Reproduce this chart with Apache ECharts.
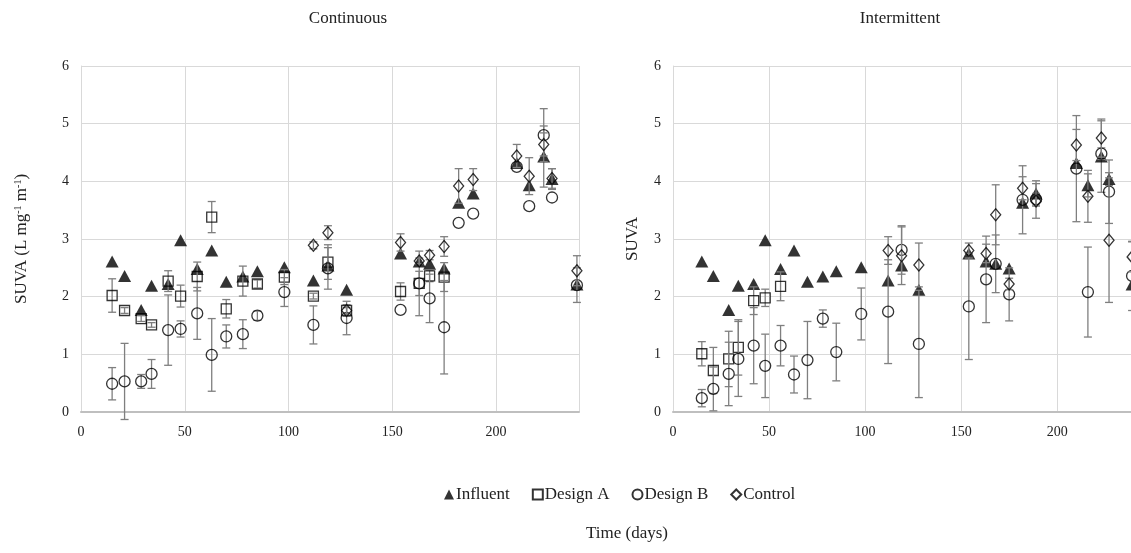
<!DOCTYPE html>
<html><head><meta charset="utf-8">
<script src="https://cdn.jsdelivr.net/npm/echarts@6/dist/echarts.min.js"></script>
<style>html,body{margin:0;padding:0;background:#fff;overflow:hidden;width:1131px;height:553px}#c{width:1140px;height:553px}</style>
</head><body><div id="c"></div>
<script>
// ---- data ----
const days = [15,21,29,34,42,48,56,63,70,78,85,98,112,119,128,154,163,168,175,182,189,210,216,223,227,239];
const xTicks = [0,50,100,150,200];
const yTicks = [0,1,2,3,4,5,6];
const influent = [2.61,2.36,1.77,2.19,2.22,2.98,2.48,2.80,2.26,2.35,2.44,2.51,2.28,2.54,2.12,2.75,2.61,2.57,2.49,3.63,3.79,4.32,3.93,4.43,4.04,2.21];
// Continuous
const contInfErr = [0,0,0,0,0,0,0,0,0,0,0,0,0,0,0,0,0,0,0,0,0,0,0,0.53,0.18,0];
const contDaysA = [15,21,29,34,42,48,56,63,70,78,85,98,112,119,128,154,163,168,175];
const contA = [2.02,1.76,1.62,1.51,2.27,2.01,2.35,3.38,1.79,2.27,2.22,2.34,2.01,2.60,1.76,2.09,2.23,2.36,2.34];
const contAErr = [0.29,0.05,0.05,0.04,0.18,0.19,0.25,0.27,0.16,0.26,0.07,0.13,0.05,0.30,0.10,0.15,0.21,0.10,0.25];
const contB = [0.49,0.53,0.53,0.66,1.42,1.44,1.71,0.99,1.31,1.35,1.67,2.08,1.51,2.49,1.63,1.77,2.23,1.97,1.47,3.28,3.44,4.25,3.57,4.80,3.72,2.20];
const contBErr = [0.28,0.66,0.12,0.25,0.61,0.14,0.45,0.63,0.20,0.25,0.08,0.25,0.33,0.36,0.29,0,0.56,0.42,0.81,0,0,0,0,0.46,0,0.30];
const ctrlDays = [112,119,128,154,163,168,175,182,189,210,216,223,227,239];
const contCtrl = [2.89,3.11,1.76,2.94,2.62,2.72,2.87,3.92,4.03,4.44,4.09,4.64,4.05,2.45];
const contCtrlErr = [0.06,0.12,0.05,0.15,0.05,0.08,0.17,0.30,0.19,0.20,0.32,0.20,0.17,0.26];
// Intermittent
const intInfErr = [0,0,0,0,0,0,0,0,0,0,0,0,0,0,0,0,0,0,0,0,0.22,0,0.20,0.62,0.11,0];
const intDaysA = [15,21,29,34,42,48,56];
const intA = [1.01,0.72,0.92,1.12,1.93,1.98,2.18];
const intAErr = [0.21,0.40,0.48,0.48,0.24,0.15,0.25];
const intB = [0.24,0.40,0.66,0.92,1.15,0.80,1.15,0.65,0.90,1.62,1.04,1.70,1.74,2.81,1.18,1.83,2.30,2.57,2.04,3.68,3.69,4.22,2.08,4.48,3.82,2.36];
const intBErr = [0.15,0.38,0.55,0.65,0.66,0.55,0.35,0.32,0.67,0.15,0.50,0.45,0.90,0.42,0.93,0.92,0.75,0.50,0.46,0.59,0.10,0.92,0.78,0.10,0.55,0.60];
const intCtrl = [2.80,2.71,2.55,2.80,2.75,3.42,2.22,3.88,3.66,4.63,3.74,4.75,2.98,2.69];
const intCtrlErr = [0.24,0.50,0.38,0.13,0.16,0.52,0.10,0.20,0.30,0.27,0.45,0.33,1.08,0.26];

// ---- chart ----
const FONT = 'Liberation Serif';
const chart = echarts.init(document.getElementById('c'), null, {renderer:'canvas'});

function pts(xs, ys){ return xs.map((x,i)=>[x, ys[i]]); }
function errPts(xs, ys, es){ return xs.map((x,i)=>[x, ys[i], es[i]]).filter(d=>d[2]>0); }

function errSeries(idx, data, z){
  return {
    type:'custom', xAxisIndex:idx, yAxisIndex:idx, z:z, silent:true,
    data:data, clip:false,
    renderItem:function(params, api){
      const x=api.value(0), y=api.value(1), e=api.value(2);
      const hi=api.coord([x,y+e]), lo=api.coord([x,y-e]);
      const w=4;
      const st={stroke:'#7f7f7f', lineWidth:1.3};
      return {type:'group', children:[
        {type:'line', shape:{x1:hi[0],y1:hi[1],x2:lo[0],y2:lo[1]}, style:st},
        {type:'line', shape:{x1:hi[0]-w,y1:hi[1],x2:hi[0]+w,y2:hi[1]}, style:st},
        {type:'line', shape:{x1:lo[0]-w,y1:lo[1],x2:lo[0]+w,y2:lo[1]}, style:st}
      ]};
    }
  };
}

const styles = {
  'Influent': {symbol:'triangle', symbolSize:[13,12], itemStyle:{color:'#000'}},
  'Design A': {symbol:'rect', symbolSize:10, itemStyle:{color:'rgba(255,255,255,0)', borderColor:'#000', borderWidth:1.3}},
  'Design B': {symbol:'circle', symbolSize:11, itemStyle:{color:'rgba(255,255,255,0)', borderColor:'#000', borderWidth:1.3}},
  'Control': {symbol:'diamond', symbolSize:[10,12], itemStyle:{color:'rgba(255,255,255,0)', borderColor:'#000', borderWidth:1.3}}
};
function sc(idx, name, data, z){
  return Object.assign({type:'scatter', name:name, xAxisIndex:idx, yAxisIndex:idx, z:z, data:data, clip:false}, styles[name]);
}

function xAx(idx){
  return {gridIndex:idx, type:'value', min:0, max:240, interval:50,
    axisLine:{show:true, lineStyle:{color:'#bfbfbf', width:2}}, axisTick:{show:false},
    splitLine:{show:true, lineStyle:{color:'#d9d9d9', width:1}},
    axisLabel:{fontFamily:FONT, fontSize:14, color:'#222', margin:13,
      formatter:v=> xTicks.indexOf(v)>=0 ? String(v) : ''}};
}
function yAx(idx, name, gap){
  return {gridIndex:idx, type:'value', min:0, max:6, interval:1,
    axisLine:{show:true, lineStyle:{color:'#d9d9d9', width:1}}, axisTick:{show:false},
    splitLine:{show:true, lineStyle:{color:'#d9d9d9', width:1}},
    axisLabel:{fontFamily:FONT, fontSize:14, color:'#222', margin:12,
      formatter:v=> yTicks.indexOf(v)>=0 ? String(v) : ''},
    name:name, nameLocation:'middle', nameGap:gap, nameRotate:90,
    nameTextStyle:{fontFamily:FONT, fontSize:17, color:'#222',
      rich:{a:{fontFamily:FONT, fontSize:17, color:'#222'}, s:{fontFamily:FONT, fontSize:10, color:'#222', verticalAlign:'top', padding:[0,0,8,0]}}}};
}

const series = [
  errSeries(0, errPts(days, influent, contInfErr), 3), sc(0,'Influent', pts(days, influent), 4),
  errSeries(0, errPts(contDaysA, contA, contAErr), 5), sc(0,'Design A', pts(contDaysA, contA), 6),
  errSeries(0, errPts(days, contB, contBErr), 7), sc(0,'Design B', pts(days, contB), 8),
  errSeries(0, errPts(ctrlDays, contCtrl, contCtrlErr), 9), sc(0,'Control', pts(ctrlDays, contCtrl), 10),
  errSeries(1, errPts(days, influent, intInfErr), 3), sc(1,'Influent', pts(days, influent), 4),
  errSeries(1, errPts(intDaysA, intA, intAErr), 5), sc(1,'Design A', pts(intDaysA, intA), 6),
  errSeries(1, errPts(days, intB, intBErr), 7), sc(1,'Design B', pts(days, intB), 8),
  errSeries(1, errPts(ctrlDays, intCtrl, intCtrlErr), 9), sc(1,'Control', pts(ctrlDays, intCtrl), 10)
];

chart.setOption({
  animation:false,
  backgroundColor:'#fff',
  grid:[
    {left:81, top:66, width:498, height:346},
    {left:673, top:66, width:461, height:346}
  ],
  xAxis:[xAx(0), xAx(1)],
  yAxis:[yAx(0,'{a|SUVA (L mg}{s|-1}{a| m}{s|-1}{a|)}',50), yAx(1,'SUVA',32)],
  legend:{
    left:439, top:481, itemGap:22, itemWidth:10, itemHeight:10,
    textStyle:{fontFamily:FONT, fontSize:17, color:'#222', padding:[0,0,0,-3]},
    data:['Influent','Design A','Design B','Control']
  },
  graphic:[
    {type:'text', style:{text:'Continuous', x:348, y:19, align:'center', verticalAlign:'middle', font:'17px "Liberation Serif"', fill:'#222'}},
    {type:'text', style:{text:'Intermittent', x:900, y:19, align:'center', verticalAlign:'middle', font:'17px "Liberation Serif"', fill:'#222'}},
    {type:'text', style:{text:'Time (days)', x:627, y:534, align:'center', verticalAlign:'middle', font:'17px "Liberation Serif"', fill:'#222'}}
  ],
  series:series
});
</script></body></html>
